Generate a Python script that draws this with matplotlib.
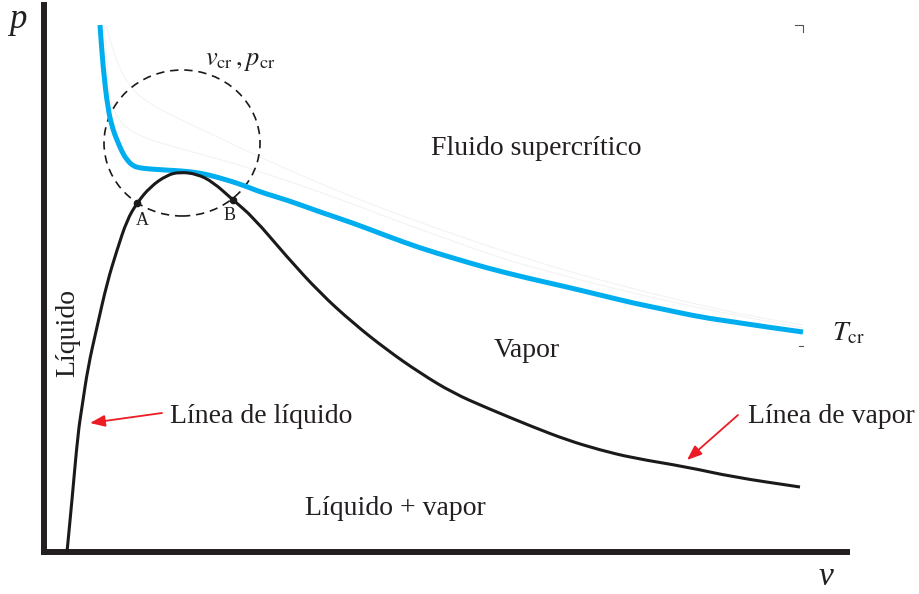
import matplotlib.pyplot as plt
from matplotlib.patches import Ellipse, PathPatch
from matplotlib.path import Path

# diagrama p-v: campana de saturacion e isoterma critica
plt.rcParams['font.family'] = ['Liberation Serif', 'DejaVu Serif']
plt.rcParams['mathtext.fontset'] = 'stix'

# linea de liquido + linea de vapor saturado (v, p)
v_sat = [23, 28, 34, 38, 44, 53, 63, 73, 83, 93, 106, 123, 136, 153, 169, 189, 209,
         243, 276, 309, 343, 376, 409, 443, 489, 523, 556, 589, 643, 689, 756]
p_sat = [0, 52, 119, 145, 185, 225, 269, 302, 332, 349, 365, 377, 380, 378, 370, 352, 335,
         295, 259, 229, 202, 179, 159, 144, 125, 112, 102, 94, 85, 75, 65]

# isoterma critica
v_tcr = [56, 59, 64, 69, 73, 78, 83, 89, 96, 106, 121, 139, 156, 173, 199, 216, 243,
         276, 309, 343, 376, 409, 443, 483, 523, 556, 589, 623, 656, 690, 723, 759]
p_tcr = [527, 485, 442, 422, 412, 400, 392, 386, 384, 383, 382, 381, 379, 375, 367, 360,
         352, 340, 329, 316, 304, 294, 284, 274, 265, 257, 249, 242, 235, 230, 225, 220]

# isotermas superiores (muy tenues)
v_t1 = [62, 68, 76, 86, 96, 120, 149, 200, 256, 306, 356, 406, 456, 506, 556, 606, 656, 706, 759]
p_t1 = [527, 505, 482, 466, 455, 440, 427, 402, 377, 356, 337, 319, 302, 286, 272, 259, 247, 236, 227]
v_t2 = [60, 63, 66, 72, 81, 96, 116, 156, 196, 256, 306, 356, 406, 456, 506, 556, 606, 656, 706, 759]
p_t2 = [527, 490, 452, 436, 425, 416, 409, 398, 387, 367, 349, 330, 312, 294, 280, 267, 255, 244, 234, 224]

# punto critico y puntos A, B
v_cr, p_cr = 138, 409
v_A, p_A = 93, 349
v_B, p_B = 189, 352


def curva_suave(x, y):
    # curva cuadratica que usa los puntos como control (suaviza las esquinas)
    pts = list(zip(x, y))
    verts = [pts[0]]
    codes = [Path.MOVETO]
    mid = lambda a, b: ((a[0] + b[0]) / 2, (a[1] + b[1]) / 2)
    verts.append(mid(pts[0], pts[1]))
    codes.append(Path.LINETO)
    for i in range(1, len(pts) - 1):
        verts += [pts[i], mid(pts[i], pts[i + 1])]
        codes += [Path.CURVE3, Path.CURVE3]
    verts.append(pts[-1])
    codes.append(Path.LINETO)
    return Path(verts, codes)


fig = plt.figure(figsize=(9.19, 5.94), dpi=100)
ax = fig.add_axes([44 / 919, 42 / 594, 803 / 919, 547 / 594])
ax.set_xlim(0, 803)
ax.set_ylim(0, 547)

for s in ['top', 'right']:
    ax.spines[s].set_visible(False)
for s in ['left', 'bottom']:
    ax.spines[s].set_linewidth(4.3)
    ax.spines[s].set_color('#231f20')
    ax.spines[s].set_capstyle('projecting')
ax.set_xticks([])
ax.set_yticks([])

for vx, py in [(v_t1, p_t1), (v_t2, p_t2)]:
    ax.add_patch(PathPatch(curva_suave(vx, py), fill=False, ec='#f3f3f3', lw=0.8))
ax.add_patch(PathPatch(curva_suave(v_tcr, p_tcr), fill=False, ec='#00aeef', lw=3.6,
                       capstyle='butt', zorder=3))
ax.add_patch(PathPatch(curva_suave(v_sat, p_sat), fill=False, ec='#1a1a1a', lw=2.2,
                       joinstyle='round', zorder=4))

ax.add_patch(Ellipse((v_cr, p_cr), 156, 146, fill=False, ec='#1a1a1a', lw=1.2,
                     ls=(0, (5, 3.5)), zorder=2))
ax.plot([v_A, v_B], [p_A, p_B], 'o', color='#1a1a1a', ms=4.5, zorder=5)

txt = dict(color='#231f20', clip_on=False)
ax.text(v_A + 5, p_A - 9, 'A', fontsize=13, ha='center', va='top', **txt)
ax.text(v_B - 3, p_B - 7, 'B', fontsize=13, ha='center', va='top', **txt)
ax.text(161, 487, r'$v_{\mathrm{cr}}\,,p_{\mathrm{cr}}$', fontsize=19, ha='left', va='baseline', **txt)
ax.text(788, 212, r'$T_{\mathrm{cr}}$', fontsize=20, ha='left', va='baseline', **txt)

ax.text(492, 397, 'Fluido supercrítico', fontsize=20, ha='center', va='baseline', **txt)
ax.text(483, 195, 'Vapor', fontsize=20, ha='center', va='baseline', **txt)
ax.text(351, 37, 'Líquido + vapor', fontsize=20, ha='center', va='baseline', **txt)
ax.text(24, 219, 'Líquido', fontsize=20, rotation=90, ha='center', va='center', **txt)
ax.text(126, 129, 'Línea de líquido', fontsize=20, ha='left', va='baseline', **txt)
ax.text(704, 129, 'Línea de vapor', fontsize=20, ha='left', va='baseline', **txt)

ax.text(-26, 524, 'p', fontsize=25, style='italic', ha='center', va='baseline', **txt)
ax.text(782, -33, 'v', fontsize=24, style='italic', ha='center', va='baseline', **txt)

# flechas rojas
arrow = dict(arrowstyle='-|>,head_length=0.9,head_width=0.35', color='#ed1c24', lw=1.3,
             shrinkA=0, shrinkB=0)
ax.annotate('', xy=(46, 129), xytext=(118, 139), arrowprops=arrow, annotation_clip=False)
ax.annotate('', xy=(643, 92), xytext=(694, 137), arrowprops=arrow, annotation_clip=False)

# marcas de recorte
ax.plot([751, 759, 759], [527, 527, 520], color='#555555', lw=0.8, clip_on=False)
ax.plot([755, 759], [206, 206], color='#555555', lw=0.8, clip_on=False)

fig.savefig('out.png', dpi=100)
